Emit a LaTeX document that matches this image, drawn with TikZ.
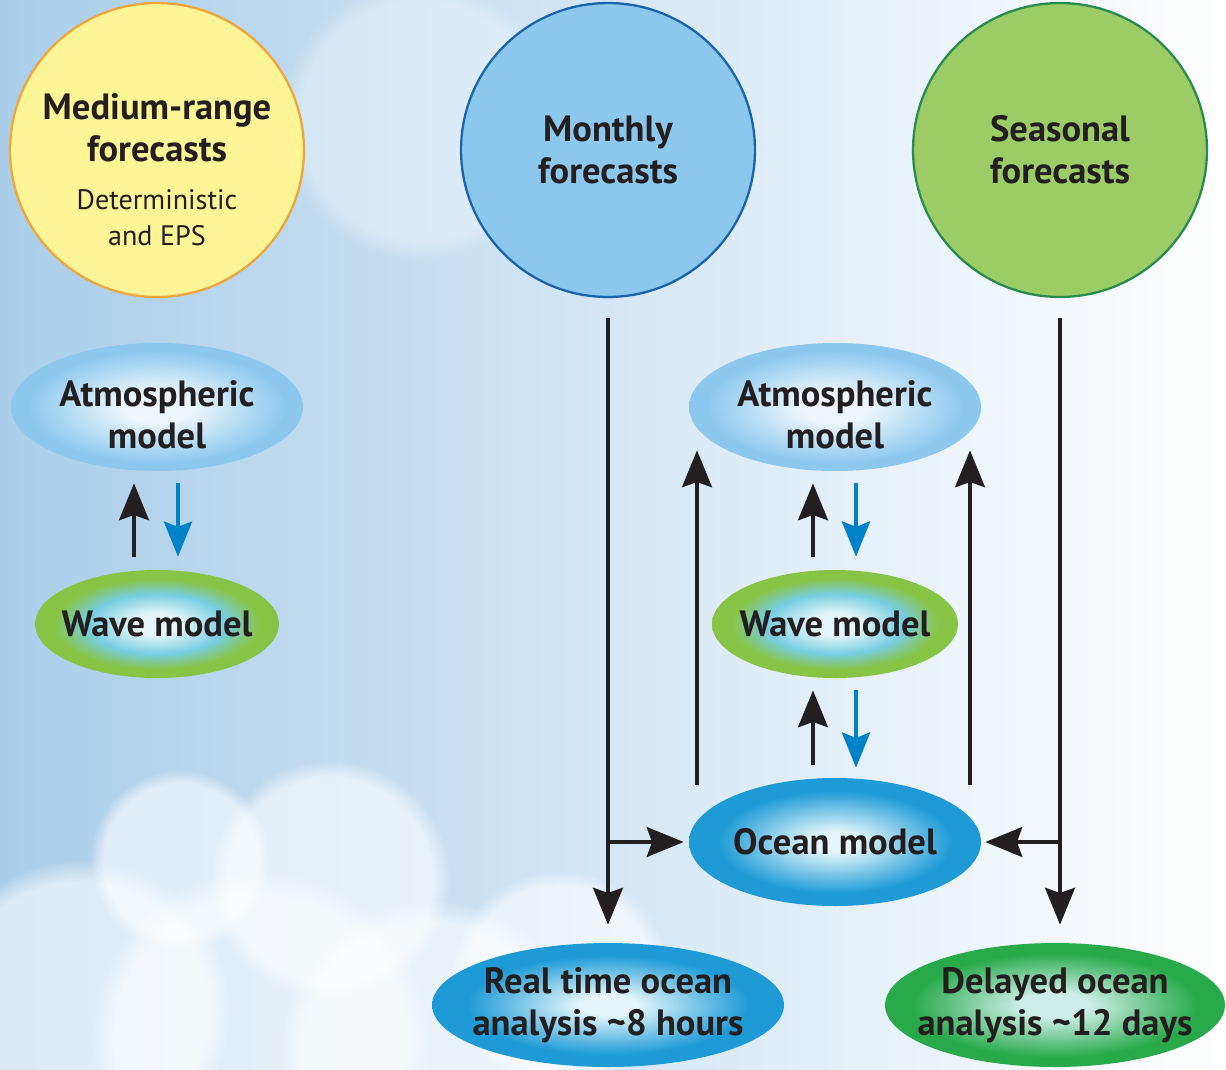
\documentclass[tikz,border=0pt]{standalone}
\usepackage{fontspec}
\setmainfont{PT Sans}
\usetikzlibrary{positioning, arrows.meta, shapes.geometric, calc, fadings}

\definecolor{ink}{RGB}{35,31,32}
\definecolor{sky}{RGB}{170,206,234}
\definecolor{medfill}{RGB}{255,245,150}
\definecolor{medline}{RGB}{240,165,60}
\definecolor{monfill}{RGB}{140,200,238}
\definecolor{monline}{RGB}{25,100,170}
\definecolor{seafill}{RGB}{156,204,101}
\definecolor{sealine}{RGB}{40,140,80}
\definecolor{arrowblue}{RGB}{0,130,200}
\definecolor{atmin}{RGB}{236,246,252}
\definecolor{atmout}{RGB}{140,200,238}
\definecolor{wavein}{RGB}{228,246,249}
\definecolor{wavemid}{RGB}{120,205,225}
\definecolor{waveout}{RGB}{135,196,70}
\definecolor{oceanin}{RGB}{228,246,250}
\definecolor{oceanout}{RGB}{30,155,215}
\definecolor{delayin}{RGB}{205,238,232}
\definecolor{delayout}{RGB}{40,170,75}

\pgfdeclareradialshading{atmshade}{\pgfpoint{0bp}{0bp}}{color(0bp)=(atmin); color(6bp)=(atmin); color(22bp)=(atmout); color(50bp)=(atmout)}
\pgfdeclareradialshading{waveshade}{\pgfpoint{0bp}{0bp}}{color(0bp)=(wavein); color(5bp)=(wavein); color(14bp)=(wavemid); color(21bp)=(waveout); color(50bp)=(waveout)}
\pgfdeclareradialshading{oceanshade}{\pgfpoint{0bp}{0bp}}{color(0bp)=(oceanin); color(4bp)=(oceanin); color(20bp)=(oceanout); color(50bp)=(oceanout)}
\pgfdeclareradialshading{delayshade}{\pgfpoint{0bp}{0bp}}{color(0bp)=(delayin); color(5bp)=(delayin); color(21bp)=(delayout); color(50bp)=(delayout)}

\begin{document}
\begin{tikzpicture}[x=0.02cm, y=-0.02cm,
    bigcircle/.style={circle, minimum size=5.88cm, inner sep=0pt, line width=1.3pt,
      align=center, text=ink, font=\bfseries\fontsize{20.8}{23.8}\selectfont},
    model/.style={ellipse, inner sep=0pt},
    modeltext/.style={align=center, text=ink, font=\bfseries\fontsize{20.8}{23.8}\selectfont},
    upar/.style={-{Stealth[length=21pt, width=17pt, inset=3pt]}, line width=2pt, ink},
    downar/.style={-{Stealth[length=20pt, width=16pt, inset=3pt]}, line width=2pt, arrowblue}
  ]
  \useasboundingbox (0,0) rectangle (1226,1069);
  \clip (0,0) rectangle (1226,1069);
  % sky
  \fill[left color=sky, right color=white] (0,0) rectangle (1226,1069);
  \foreach \cx/\cy/\r in {80/1010/150, 260/1040/170, 430/1050/150, 330/880/120, 560/980/110, 180/860/90}
    \fill[white, opacity=0.6, path fading=circle with fuzzy edge 15 percent] (\cx,\cy) circle (\r);
  \fill[white, opacity=0.35, path fading=circle with fuzzy edge 15 percent] (420,120) circle (140);

  % forecasts
  \node[bigcircle, fill=medfill, draw=medline] (medium) at (157,150) {};
  \node[modeltext] (medtitle) at (157,128) {Medium-range\\forecasts};
  \node[align=center, text=ink, font=\fontsize{16}{20.4}\selectfont] (medsub) at (157,218) {Deterministic\\and EPS};
  \node[bigcircle, fill=monfill, draw=monline] (monthly) at (608,150) {Monthly\\forecasts};
  \node[bigcircle, fill=seafill, draw=sealine] (seasonal) at (1060,150) {Seasonal\\forecasts};

  % models
  \node[model, shading=atmshade, minimum width=5.84cm, minimum height=2.56cm] (latm) at (157,407) {};
  \node[modeltext] (latmtxt) at ($(latm)+(0,8)$) {Atmospheric\\model};
  \node[model, shading=waveshade, minimum width=4.88cm, minimum height=2.16cm] (lwave) at (157,624) {};
  \node[modeltext] (lwavetxt) at (lwave) {Wave model};
  \node[model, shading=atmshade, minimum width=5.84cm, minimum height=2.56cm] (ratm) at (835,407) {};
  \node[modeltext] (ratmtxt) at ($(ratm)+(0,8)$) {Atmospheric\\model};
  \node[model, shading=waveshade, minimum width=4.92cm, minimum height=2.16cm] (rwave) at (835,624) {};
  \node[modeltext] (rwavetxt) at (rwave) {Wave model};
  \node[model, shading=oceanshade, minimum width=5.84cm, minimum height=2.56cm] (ocean) at (835,842) {};
  \node[modeltext] (oceantxt) at (ocean) {Ocean model};
  \node[model, shading=oceanshade, minimum width=7.04cm, minimum height=2.48cm] (realtime) at (608,1005) {};
  \node[modeltext] (realtimetxt) at (realtime) {Real time ocean\\analysis \textasciitilde8 hours};
  \node[model, shading=delayshade, minimum width=6.8cm, minimum height=2.48cm] (delayed) at (1055,1005) {};
  \node[modeltext] (delayedtxt) at (delayed) {Delayed ocean\\analysis \textasciitilde12 days};

  % couplings
  \draw[upar, shorten <=0.26cm, shorten >=0.24cm] ($(lwave.north)+(-23,0)$) -- ($(latm.south)+(-23,0)$);
  \draw[downar, shorten <=0.24cm, shorten >=0.26cm] ($(latm.south)+(21,0)$) -- ($(lwave.north)+(21,0)$);
  \draw[upar, shorten <=0.26cm, shorten >=0.24cm] ($(rwave.north)+(-22,0)$) -- ($(ratm.south)+(-22,0)$);
  \draw[downar, shorten <=0.24cm, shorten >=0.26cm] ($(ratm.south)+(21,0)$) -- ($(rwave.north)+(21,0)$);
  \draw[upar, shorten <=0.26cm, shorten >=0.24cm] ($(ocean.north)+(-22,0)$) -- ($(rwave.south)+(-22,0)$);
  \draw[downar, shorten <=0.24cm, shorten >=0.2cm] ($(rwave.south)+(21,0)$) -- ($(ocean.north)+(21,0)$);
  \draw[upar] ($(ocean.north)+(-138,7)$) -- ($(ratm.south)+(-138,-21)$);
  \draw[upar] ($(ocean.north)+(135,7)$) -- ($(ratm.south)+(135,-21)$);

  % forcing
  \coordinate (mtop) at ($(monthly.south)+(0,20)$);
  \coordinate (stop) at ($(seasonal.south)+(0,20)$);
  \draw[upar, shorten >=0.36cm] (mtop) -- (mtop |- realtime.north);
  \draw[upar, shorten >=0.1cm] (mtop |- ocean.west) -- (ocean.west);
  \draw[upar, shorten >=0.36cm] (stop) -- (stop |- delayed.north);
  \draw[upar, shorten >=0.08cm] (stop |- ocean.east) -- (ocean.east);
\end{tikzpicture}
\end{document}
